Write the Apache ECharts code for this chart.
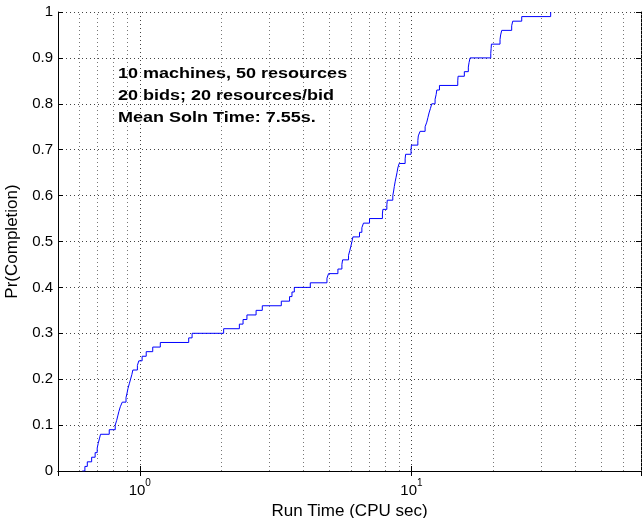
<!DOCTYPE html>
<html>
<head>
<meta charset="utf-8">
<script src="https://cdn.jsdelivr.net/npm/echarts@6/dist/echarts.min.js"></script>
<style>
  html, body { margin: 0; padding: 0; background: #fff; }
  #chart { width: 644px; height: 518px; }
</style>
</head>
<body>
<div id="chart"></div>
<script>
// run times (CPU sec) where the completion curve steps up
var runTimes = [0.614, 0.628, 0.641, 0.665, 0.685, 0.697, 0.703, 0.710, 0.717, 0.772,
  0.812, 0.822, 0.830, 0.838, 0.848, 0.862, 0.890, 0.898, 0.905, 0.915,
  0.925, 0.935, 0.943, 0.980, 0.992, 1.020, 1.056, 1.116, 1.190, 1.514,
  1.558, 2.036, 2.326, 2.400, 2.480, 2.680, 2.825, 3.319, 3.560, 3.633,
  3.706, 4.243, 4.887, 4.954, 5.363, 5.547, 5.580, 5.867, 5.930, 5.987,
  6.040, 6.090, 6.440, 6.570, 6.660, 7.010, 7.820, 7.850, 8.120, 8.150,
  8.540, 8.600, 8.650, 8.710, 8.780, 8.850, 8.910, 9.010, 9.480, 9.520,
  9.970, 10.00, 10.56, 10.60, 10.76, 11.23, 11.39, 11.50, 11.61, 11.75,
  11.88, 12.22, 12.33, 12.40, 12.68, 14.81, 14.85, 15.66, 16.20, 16.30,
  16.44, 19.59, 19.65, 19.70, 21.19, 21.30, 21.50, 23.39, 23.60, 25.47,
  32.55];
// Pr(Completion) reached at each of those times
var completion = [0.00, 0.01, 0.02, 0.03, 0.04, 0.05, 0.06, 0.07, 0.08, 0.09,
  0.10, 0.11, 0.12, 0.13, 0.14, 0.15, 0.16, 0.17, 0.18, 0.19,
  0.20, 0.21, 0.22, 0.23, 0.24, 0.25, 0.26, 0.27, 0.28, 0.29,
  0.30, 0.31, 0.32, 0.33, 0.34, 0.35, 0.36, 0.37, 0.38, 0.39,
  0.40, 0.41, 0.42, 0.43, 0.44, 0.45, 0.46, 0.47, 0.48, 0.49,
  0.50, 0.51, 0.52, 0.53, 0.54, 0.55, 0.56, 0.57, 0.58, 0.59,
  0.60, 0.61, 0.62, 0.63, 0.64, 0.65, 0.66, 0.67, 0.68, 0.69,
  0.70, 0.71, 0.72, 0.73, 0.74, 0.75, 0.76, 0.77, 0.78, 0.79,
  0.80, 0.81, 0.82, 0.83, 0.84, 0.85, 0.86, 0.87, 0.88, 0.89,
  0.90, 0.91, 0.92, 0.93, 0.94, 0.95, 0.96, 0.97, 0.98, 0.99,
  1.00];
// minor log grid lines
var minorGridTimes = [0.6, 0.7, 0.8, 0.9, 2, 3, 4, 5, 6, 7, 8, 9, 20, 30, 40, 50, 60, 70];
var noteLines = ['10 machines, 50 resources', '20 bids; 20 resources/bid', 'Mean Soln Time: 7.55s.'];

var FONT = 'Liberation Sans, Arial, Helvetica, sans-serif';

var seriesData = [];
for (var i = 0; i < runTimes.length; i++) {
  seriesData.push([runTimes[i], completion[i]]);
}
var minorLines = [];
for (var k = 0; k < minorGridTimes.length; k++) {
  minorLines.push({ xAxis: minorGridTimes[k] });
}

var chart = echarts.init(document.getElementById('chart'));

var option = {
  animation: false,
  backgroundColor: '#fff',
  textStyle: { fontFamily: FONT, color: '#000' },
  grid: { left: 58, right: 3, top: 12, bottom: 47, containLabel: false, outerBoundsMode: 'none' },
  xAxis: [
    {
      type: 'log',
      logBase: 10,
      min: 0.5,
      max: 70,
      position: 'bottom',
      name: 'Run Time (CPU sec)',
      nameLocation: 'middle',
      nameGap: 27,
      nameTextStyle: { fontSize: 17, color: '#000', fontFamily: FONT },
      axisLine: { lineStyle: { color: '#000', width: 1 } },
      axisTick: { inside: true, length: 5, lineStyle: { color: '#000' } },
      axisLabel: {
        margin: 7,
        showMinLabel: false,
        showMaxLabel: false,
        formatter: function (v) {
          var e = Math.round(Math.log(v) / Math.LN10);
          if (Math.abs(v - Math.pow(10, e)) > 1e-6 * v) return '';
          return '{b|10}{s|' + e + '}';
        },
        rich: {
          b: { fontSize: 15, fontFamily: FONT, color: '#000', verticalAlign: 'bottom', lineHeight: 20 },
          s: { fontSize: 10, fontFamily: FONT, color: '#000', verticalAlign: 'top', lineHeight: 20 }
        }
      },
      splitLine: { show: true, lineStyle: { color: '#444', type: [1, 3], width: 1 } }
    },
    {
      type: 'log',
      logBase: 10,
      min: 0.5,
      max: 70,
      position: 'top',
      axisLine: { lineStyle: { color: '#000', width: 1 } },
      axisTick: { inside: true, length: 5, lineStyle: { color: '#000' } },
      axisLabel: { show: false },
      splitLine: { show: false }
    }
  ],
  yAxis: [
    {
      type: 'value',
      min: 0,
      max: 1,
      interval: 0.1,
      position: 'left',
      name: 'Pr(Completion)',
      nameLocation: 'middle',
      nameGap: 33,
      nameTextStyle: { fontSize: 17, color: '#000', fontFamily: FONT },
      axisLine: { show: true, lineStyle: { color: '#000', width: 1 } },
      axisTick: { show: true, inside: true, length: 5, lineStyle: { color: '#000' } },
      axisLabel: { fontSize: 15, color: '#000', margin: 5, fontFamily: FONT },
      splitLine: { show: true, lineStyle: { color: '#444', type: [1, 3], width: 1 } }
    },
    {
      type: 'value',
      min: 0,
      max: 1,
      interval: 0.1,
      position: 'right',
      axisLine: { show: true, lineStyle: { color: '#000', width: 1 } },
      axisTick: { show: true, inside: true, length: 5, lineStyle: { color: '#000' } },
      axisLabel: { show: false },
      splitLine: { show: false }
    }
  ],
  graphic: [
    {
      type: 'text',
      x: 118,
      y: 63,
      scaleX: 1.2,
      silent: true,
      style: {
        text: noteLines.join('\n'),
        font: 'bold 15px ' + FONT,
        lineHeight: 22,
        fill: '#000'
      }
    }
  ],
  series: [
    {
      type: 'line',
      xAxisIndex: 0,
      yAxisIndex: 0,
      data: seriesData,
      step: 'end',
      showSymbol: false,
      symbol: 'none',
      lineStyle: { color: '#0000ff', width: 1 },
      z: 5,
      markLine: {
        silent: true,
        symbol: 'none',
        label: { show: false },
        lineStyle: { color: '#777', type: [1, 3], width: 1 },
        data: minorLines
      }
    }
  ]
};

chart.setOption(option);
</script>
</body>
</html>
